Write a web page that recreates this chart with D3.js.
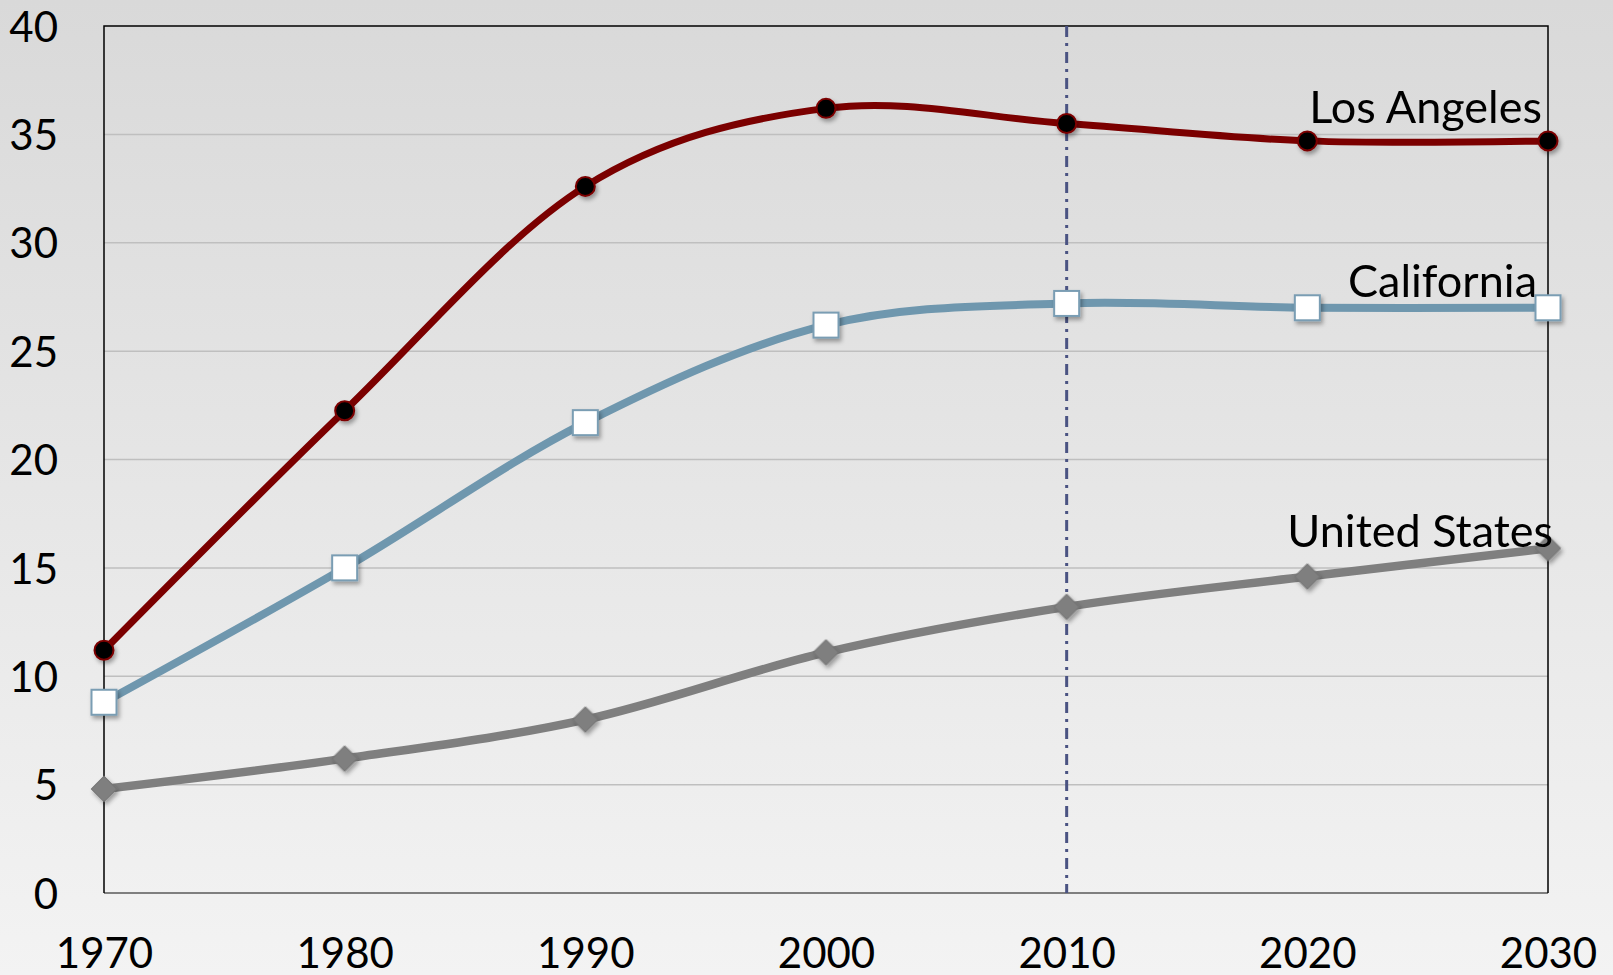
<!DOCTYPE html>
<html>
<head>
<meta charset="utf-8">
<script src="https://cdn.jsdelivr.net/npm/d3@7"></script>
<style>
  html, body { margin: 0; padding: 0; }
  body { width: 1613px; height: 975px; overflow: hidden; font-family: Lato, "Noto Sans", sans-serif; }
</style>
</head>
<body>
<div id="chart"></div>
<script>
const years = [1970, 1980, 1990, 2000, 2010, 2020, 2030];
const losAngeles = [11.2, 22.25, 32.6, 36.2, 35.5, 34.7, 34.7];
const california = [8.8, 15.0, 21.7, 26.2, 27.2, 27.0, 27.0];
const unitedStates = [4.8, 6.2, 8.0, 11.1, 13.2, 14.6, 15.9];
const yTicks = [0, 5, 10, 15, 20, 25, 30, 35, 40];
const markerYear = 2010;

const W = 1613, H = 975;
const margin = { left: 104, right: 65, top: 26, bottom: 82 };

const svg = d3.select("#chart").append("svg").attr("width", W).attr("height", H);
const defs = svg.append("defs");

// background gradient
const grad = defs.append("linearGradient").attr("id", "bg").attr("x1", 0).attr("y1", 0).attr("x2", 0).attr("y2", 1);
grad.append("stop").attr("offset", "0%").attr("stop-color", "#d9d9d9");
grad.append("stop").attr("offset", "100%").attr("stop-color", "#f3f3f3");

const shadow = defs.append("filter").attr("id", "shadow").attr("x", "-50%").attr("y", "-50%").attr("width", "200%").attr("height", "200%");
shadow.append("feDropShadow").attr("dx", 2).attr("dy", 3).attr("stdDeviation", 2).attr("flood-color", "#000").attr("flood-opacity", 0.35);

svg.append("rect").attr("width", W).attr("height", H).attr("fill", "url(#bg)");

const x = d3.scaleLinear().domain([1970, 2030]).range([margin.left, W - margin.right]);
const y = d3.scaleLinear().domain([0, 40]).range([H - margin.bottom, margin.top]);

// grid lines
svg.append("g").selectAll("line").data(yTicks.filter(d => d > 0 && d < 40)).join("line")
  .attr("x1", x(1970)).attr("x2", x(2030))
  .attr("y1", d => y(d)).attr("y2", d => y(d))
  .attr("stroke", "#bfbfbf").attr("stroke-width", 1.5);

// plot frame
svg.append("line").attr("x1", x(1970)).attr("x2", x(2030)).attr("y1", y(0)).attr("y2", y(0))
  .attr("stroke", "#7f7f7f").attr("stroke-width", 2);
svg.append("path")
  .attr("d", `M${x(1970)},${y(0)}V${y(40)}H${x(2030)}V${y(0)}`)
  .attr("fill", "none").attr("stroke", "#000").attr("stroke-width", 1.5);

// axes
const yAxis = svg.append("g").attr("transform", `translate(${58},0)`)
  .call(d3.axisLeft(y).tickValues(yTicks).tickSize(0).tickPadding(0));
yAxis.select(".domain").remove();
yAxis.selectAll("text").attr("font-size", 42).attr("font-family", "Lato, sans-serif").attr("fill", "#000")
  .attr("dy", "0.36em");

const xAxis = svg.append("g").attr("transform", `translate(0,${y(0)})`)
  .call(d3.axisBottom(x).tickValues(years).tickFormat(d3.format("d")).tickSize(0).tickPadding(0));
xAxis.select(".domain").remove();
xAxis.selectAll("text").attr("font-size", 42).attr("font-family", "Lato, sans-serif").attr("fill", "#000")
  .attr("dy", "0").attr("y", 75);

// vertical dash-dot line at 2010
svg.append("line")
  .attr("x1", x(markerYear)).attr("x2", x(markerYear)).attr("y1", y(40)).attr("y2", y(0))
  .attr("stroke", "#4a5382").attr("stroke-width", 3).attr("stroke-dasharray", "11,6,3,6");

const line = d3.line().x((d, i) => x(years[i])).y(d => y(d)).curve(d3.curveCardinal.tension(0));

const series = [
  { name: "United States", values: unitedStates, color: "#7f7f7f", width: 8.5 },
  { name: "California", values: california, color: "#6f97ae", width: 8 },
  { name: "Los Angeles", values: losAngeles, color: "#7b0000", width: 7 }
];

series.forEach(s => {
  svg.append("path").datum(s.values).attr("d", line)
    .attr("fill", "none").attr("stroke", s.color).attr("stroke-width", s.width)
    .attr("stroke-linecap", "round").attr("stroke-linejoin", "round");
});

// markers
svg.append("g").attr("filter", "url(#shadow)").selectAll("path").data(unitedStates).join("path")
  .attr("d", d3.symbol().type(d3.symbolSquare).size(320))
  .attr("transform", (d, i) => `translate(${x(years[i])},${y(d)}) rotate(45)`)
  .attr("fill", "#7f7f7f").attr("stroke", "#747474").attr("stroke-width", 1);

svg.append("g").attr("filter", "url(#shadow)").selectAll("rect").data(california).join("rect")
  .attr("x", (d, i) => x(years[i]) - 12.5).attr("y", d => y(d) - 12.5)
  .attr("width", 25).attr("height", 25)
  .attr("fill", "#fff").attr("stroke", "#7a9db3").attr("stroke-width", 2);

svg.append("g").attr("filter", "url(#shadow)").selectAll("circle").data(losAngeles).join("circle")
  .attr("cx", (d, i) => x(years[i])).attr("cy", d => y(d)).attr("r", 9.5)
  .attr("fill", "#000").attr("stroke", "#7b0000").attr("stroke-width", 2);

// series labels
const labels = [
  { text: "Los Angeles", x: 1542, y: 123 },
  { text: "California", x: 1537, y: 297 },
  { text: "United States", x: 1553, y: 547 }
];
svg.append("g").selectAll("text").data(labels).join("text")
  .attr("x", d => d.x).attr("y", d => d.y).attr("text-anchor", "end")
  .attr("font-size", 45).attr("font-family", "Lato, sans-serif").attr("fill", "#000")
  .text(d => d.text);
</script>
</body>
</html>
